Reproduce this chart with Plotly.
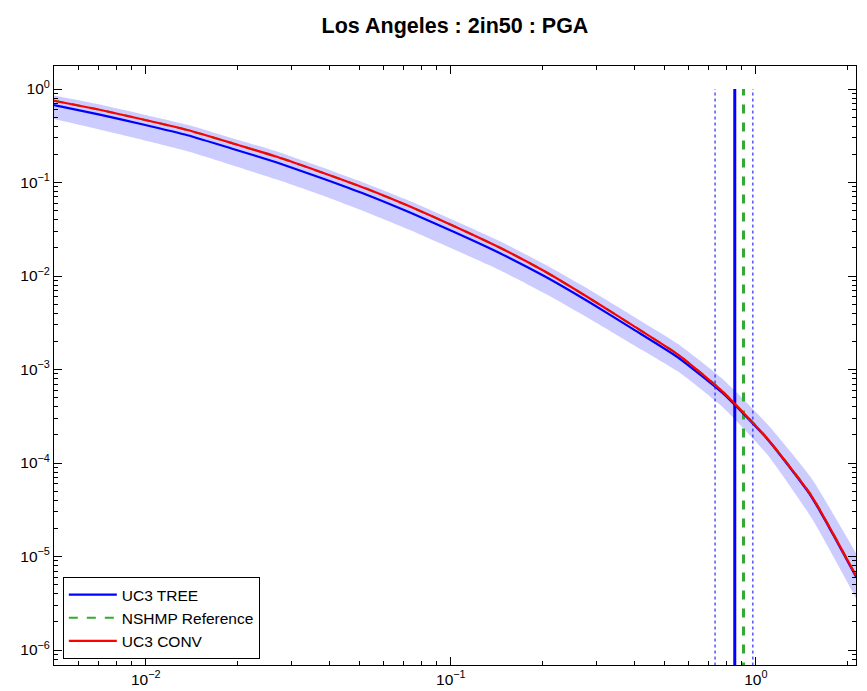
import plotly.graph_objects as go

# Ground-motion levels (PGA, g)
gm = [0.005, 0.007, 0.0098, 0.0137, 0.0192, 0.0269, 0.0376, 0.0527, 0.0738, 0.103,
      0.145, 0.203, 0.284, 0.397, 0.556, 0.778, 1.09, 1.52, 2.13]

# UC3 TREE (mean) exceedance probability
uc3_tree = [0.674, 0.536, 0.417, 0.320, 0.230, 0.1636, 0.1117, 0.0744, 0.0474, 0.0294,
            0.01753, 0.00993, 0.00527, 0.002685, 0.001344, 5.61e-4, 1.806e-4, 4.38e-5, 6.08e-6]

# UC3 TREE branch envelope (upper / lower)
tree_upper = [0.852, 0.686, 0.534, 0.414, 0.2977, 0.2146, 0.1464, 0.0976, 0.0629, 0.0390,
              0.02356, 0.01334, 0.00717, 0.003697, 0.001874, 7.91e-4, 2.614e-4, 6.91e-5, 1.085e-5]
tree_lower = [0.4776, 0.3707, 0.2848, 0.2157, 0.1531, 0.1076, 0.0735, 0.04836, 0.03083, 0.01911,
              0.01153, 0.00653, 0.003512, 0.001833, 9.52e-4, 3.97e-4, 1.233e-4, 2.614e-5, 3.58e-6]

# UC3 CONV
uc3_conv = [0.7496, 0.6035, 0.4718, 0.3642, 0.2633, 0.1883, 0.1289, 0.0862, 0.05497, 0.03392,
            0.02008, 0.01123, 0.005816, 0.002926, 0.001446, 5.82e-4, 1.828e-4, 4.49e-5, 6.23e-6]

# NSHMP Reference
nshmp_ref = [0.7496, 0.6035, 0.4718, 0.3642, 0.2633, 0.1883, 0.1289, 0.0862, 0.05497, 0.03392,
             0.02008, 0.01123, 0.005816, 0.002926, 0.001446, 5.85e-4, 1.84e-4, 4.52e-5, 6.25e-6]

# 2in50 ground motion values
tree_2in50 = 0.853
tree_2in50_min = 0.735
tree_2in50_max = 0.978
nshmp_2in50 = 0.911
vline_y = [1e-7, 1.0]

x_tickvals = [0.01, 0.1, 1.0]
x_ticktext = ["10<sup>−2</sup>", "10<sup>−1</sup>", "10<sup>0</sup>"]
y_tickvals = [1e-6, 1e-5, 1e-4, 1e-3, 1e-2, 1e-1, 1.0]
y_ticktext = ["10<sup>−6</sup>", "10<sup>−5</sup>", "10<sup>−4</sup>", "10<sup>−3</sup>",
              "10<sup>−2</sup>", "10<sup>−1</sup>", "10<sup>0</sup>"]

x_minor = [k * 10.0 ** d for d in range(-3, 1) for k in range(2, 10)]
y_minor = [k * 10.0 ** d for d in range(-7, 1) for k in range(2, 10)]

X_RANGE = [-2.301, 0.3284]
Y_RANGE = [-6.16, 0.246]

BLUE = "rgb(0,0,255)"
RED = "rgb(255,0,0)"
GREEN = "rgb(51,170,51)"
BAND = "rgb(204,204,255)"
FONT = "Liberation Sans, Arial, sans-serif"
SMOOTH = dict(shape="spline", smoothing=0.5)

fig = go.Figure()

# band
fig.add_trace(go.Scatter(x=gm, y=tree_lower, mode="lines",
                         line=dict(width=0, color=BAND, **SMOOTH),
                         showlegend=False, hoverinfo="skip"))
fig.add_trace(go.Scatter(x=gm, y=tree_upper, mode="lines",
                         line=dict(width=0, color=BAND, **SMOOTH),
                         fill="tonexty", fillcolor=BAND, showlegend=False, hoverinfo="skip"))

# vertical lines
for xv in (tree_2in50_min, tree_2in50_max):
    fig.add_trace(go.Scatter(x=[xv, xv], y=vline_y, mode="lines",
                             line=dict(color=BLUE, width=1, dash="dot"), showlegend=False))
fig.add_trace(go.Scatter(x=[nshmp_2in50, nshmp_2in50], y=vline_y, mode="lines",
                         line=dict(color=GREEN, width=3, dash="dash"), showlegend=False))
fig.add_trace(go.Scatter(x=[tree_2in50, tree_2in50], y=vline_y, mode="lines",
                         line=dict(color=BLUE, width=3), showlegend=False))

# curves
fig.add_trace(go.Scatter(x=gm, y=uc3_tree, mode="lines", name="UC3 TREE",
                         line=dict(color=BLUE, width=2.2, **SMOOTH)))
fig.add_trace(go.Scatter(x=gm, y=nshmp_ref, mode="lines", name="NSHMP Reference",
                         line=dict(color=GREEN, width=2.2, dash="dash", **SMOOTH)))
fig.add_trace(go.Scatter(x=gm, y=uc3_conv, mode="lines", name="UC3 CONV",
                         line=dict(color=RED, width=2.2, **SMOOTH)))

fig.update_xaxes(type="log", range=X_RANGE, tickmode="array", tickvals=x_tickvals,
                 ticktext=x_ticktext, showgrid=False, zeroline=False, showline=True,
                 linecolor="black", linewidth=1, mirror="allticks", ticks="inside",
                 ticklen=8, tickcolor="black", tickwidth=1.2, automargin=False,
                 tickfont=dict(family=FONT, size=15.5, color="black"),
                 minor=dict(tickmode="array", tickvals=x_minor, ticks="inside", ticklen=4,
                            tickcolor="black", tickwidth=1, showgrid=False))
fig.update_yaxes(type="log", range=Y_RANGE, tickmode="array", tickvals=y_tickvals,
                 ticktext=y_ticktext, showgrid=False, zeroline=False, showline=True,
                 linecolor="black", linewidth=1, mirror="allticks", ticks="inside",
                 ticklen=8, tickcolor="black", tickwidth=1.2, automargin=False,
                 tickfont=dict(family=FONT, size=15.5, color="black"),
                 minor=dict(tickmode="array", tickvals=y_minor, ticks="inside", ticklen=4,
                            tickcolor="black", tickwidth=1, showgrid=False))

fig.update_layout(
    template="simple_white",
    width=867, height=691,
    margin=dict(l=54, r=11, t=66, b=26),
    paper_bgcolor="white", plot_bgcolor="white",
    font=dict(family=FONT, color="black"),
    title=dict(text="<b>Los Angeles : 2in50 : PGA</b>", x=455 / 867, xanchor="center",
               y=1 - 25 / 691, yanchor="middle", yref="container",
               font=dict(size=21.5, family=FONT, color="black")),
    legend=dict(x=0.011, y=0.01, xanchor="left", yanchor="bottom",
                traceorder="normal",
                bgcolor="white", bordercolor="black", borderwidth=1,
                font=dict(size=15.5, family=FONT, color="black"),
                tracegroupgap=0, itemwidth=48),
    showlegend=True,
)

fig.write_html("out.html")
